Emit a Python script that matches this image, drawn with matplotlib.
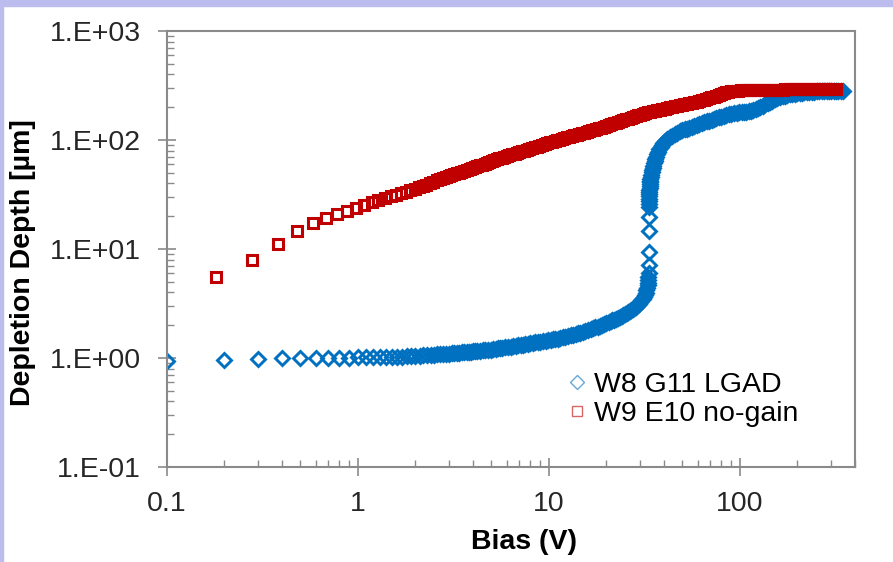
import matplotlib
matplotlib.use('Agg')
import matplotlib.pyplot as plt
from matplotlib.patches import Rectangle
from matplotlib.ticker import FixedLocator, FuncFormatter, LogLocator, NullFormatter

plt.rcParams['font.family'] = ['Liberation Sans', 'DejaVu Sans']

# W8 G11 LGAD (blue diamonds)
bias_w8 = [0.1, 0.2, 0.3, 0.4, 0.5, 0.6, 0.7, 0.8, 0.9, 1.0,
           1.1, 1.2, 1.3, 1.4, 1.5, 1.6, 1.7, 1.8, 1.9, 2.0,
           2.1, 2.2, 2.3, 2.4, 2.5, 2.6, 2.7, 2.8, 2.9, 3.0,
           3.1, 3.2, 3.3, 3.4, 3.5, 3.6, 3.7, 3.8, 3.9, 4.0,
           4.1, 4.2, 4.35, 4.5, 4.65, 4.8, 4.95, 5.1, 5.25, 5.4,
           5.55, 5.7, 5.9, 6.1, 6.3, 6.5, 6.7, 6.9, 7.1, 7.3,
           7.5, 7.75, 8.0, 8.25, 8.5, 8.75, 9.0, 9.3, 9.6, 9.9,
           10.2, 10.5, 10.8, 11.1, 11.4, 11.8, 12.2, 12.6, 13.0, 13.4,
           13.8, 14.2, 14.6, 15.0, 15.5, 16.0, 16.5, 17.0, 17.5, 18.0,
           18.5, 19.0, 19.5, 20.0, 20.5, 21.0, 21.5, 22.0, 22.5, 23.0,
           23.5, 24.0, 24.5, 25.0, 25.5, 26.0, 26.5, 27.0, 27.5, 28.0,
           28.5, 29.0, 29.5, 30.0, 30.5, 31.0, 31.4, 31.8, 32.1, 32.4,
           32.6, 32.8, 33.0,
           33.1, 33.1, 33.2, 33.2, 33.2, 33.3, 33.3, 33.3, 33.3, 33.4,
           33.4, 33.4, 33.4, 33.5, 33.5, 33.6, 33.6, 33.7, 33.8, 33.9,
           34.0, 34.1, 34.3, 34.5, 34.7, 34.9, 35.1, 35.4, 35.7, 36.0,
           36.4, 36.8, 37.3, 37.8, 38.4, 39.0, 39.7, 40.5,
           41.7, 43, 44.3, 45.6, 47, 48.4, 49.8, 51.3, 52.8, 54.4,
           56, 57.7, 59.4, 61.2, 63, 65, 67, 69, 71, 73,
           75, 77.5, 80, 82.5, 85, 87.5, 90, 93, 96, 99,
           102, 105, 108, 111, 114, 117.5, 121, 124.5, 128, 132,
           136, 140, 144, 148, 152.5, 157, 162, 167, 172, 177,
           182, 187.5, 193, 199, 205, 211, 217, 224, 231, 238,
           245, 252, 260, 268, 276, 284, 292, 301, 310, 319,
           328, 337, 346]
depth_w8 = [0.94, 0.96, 0.98, 1.00, 1.01, 1.01, 1.01, 1.01, 1.01, 1.02,
            1.02, 1.02, 1.02, 1.03, 1.03, 1.03, 1.03, 1.04, 1.04, 1.05,
            1.05, 1.06, 1.06, 1.07, 1.07, 1.08, 1.08, 1.09, 1.09, 1.10,
            1.105, 1.11, 1.115, 1.12, 1.125, 1.13, 1.135, 1.14, 1.145, 1.15,
            1.155, 1.16, 1.167, 1.175, 1.182, 1.19, 1.197, 1.205, 1.215, 1.225,
            1.235, 1.24, 1.25, 1.26, 1.27, 1.29, 1.30, 1.31, 1.32, 1.33,
            1.34, 1.355, 1.37, 1.38, 1.39, 1.40, 1.415, 1.43, 1.445, 1.455,
            1.47, 1.48, 1.495, 1.51, 1.525, 1.545, 1.565, 1.59, 1.61, 1.635,
            1.66, 1.68, 1.71, 1.73, 1.77, 1.81, 1.84, 1.875, 1.91, 1.945,
            1.98, 2.02, 2.06, 2.09, 2.13, 2.17, 2.21, 2.25, 2.29, 2.33,
            2.38, 2.42, 2.47, 2.52, 2.57, 2.63, 2.69, 2.74, 2.81, 2.88,
            2.96, 3.04, 3.13, 3.25, 3.38, 3.5, 3.65, 3.82, 3.98, 4.2,
            4.4, 4.65, 4.9,
            5.2, 5.5, 6.0, 7.1, 9.4, 14.5, 19.6, 24.3, 26, 27.5,
            29, 30.5, 32, 33.5, 35, 36.5, 38, 39.5, 41, 42.5,
            44, 46, 48, 50.5, 53, 55.5, 58, 61, 64, 67,
            70.5, 74, 78, 82, 86, 90, 94, 98,
            102, 106, 110, 114, 117, 120, 122.5, 125, 127.5, 130,
            133, 135, 137, 139.5, 142, 145, 148, 150.5, 153.5, 156,
            158.5, 161.5, 164, 166.5, 169, 171.5, 173.5, 175.5, 177.5, 179,
            180, 181, 182.5, 184.5, 186.5, 189, 193, 197, 201, 206,
            212, 218, 224, 230, 236, 242, 247, 252, 256, 259,
            262, 265, 267, 269, 271, 272.5, 274, 275, 276.5, 277.5,
            278.5, 279.5, 280, 281, 281.5, 282, 282.5, 283, 283, 283.5,
            284, 284, 284]

# W9 E10 no-gain (red squares)
bias_w9 = [0.18, 0.28, 0.38, 0.48, 0.58, 0.68, 0.78, 0.88, 0.98, 1.08,
           1.18, 1.28, 1.38, 1.48, 1.58, 1.68, 1.78, 1.88, 1.98, 2.08,
           2.18, 2.28, 2.38, 2.48, 2.58, 2.68, 2.78, 2.88, 2.98,
           3.08, 3.18, 3.28, 3.38, 3.48, 3.6, 3.72, 3.84, 3.96, 4.08,
           4.2, 4.33, 4.46, 4.6, 4.74, 4.88, 5.03, 5.18, 5.34, 5.5,
           5.67, 5.84, 6.0, 6.2, 6.4, 6.6, 6.8, 7.0, 7.2, 7.4,
           7.65, 7.9, 8.15, 8.4, 8.65, 8.9, 9.2, 9.5, 9.8, 10.1,
           10.4, 10.7, 11.0, 11.35, 11.7, 12.05, 12.4, 12.8, 13.2, 13.6,
           14.0, 14.4, 14.85, 15.3, 15.75, 16.2, 16.7, 17.2, 17.7, 18.25,
           18.8, 19.35, 19.95, 20.55, 21.15, 21.8, 22.45, 23.1, 23.8, 24.5,
           25.25, 26.0, 26.8, 27.6, 28.4, 29.25, 30.1, 31.0, 31.95, 32.9,
           33.9, 34.9, 35.95, 37.0, 38.1, 39.25, 40.4, 41.6, 42.9, 44.2,
           45.5, 46.9, 48.3, 49.7, 51.2, 52.7, 54.3, 55.9, 57.6, 59.3,
           61.1, 62.9, 64.8, 66.7, 68.7, 70.8, 72.9, 75.1, 77.3, 79.6,
           82, 84.5, 87, 89.6, 92.3, 95.1, 98, 101, 104, 107,
           110, 113, 117, 120.5, 124, 128, 132, 136, 140, 144,
           148.5, 153, 157.5, 162, 167, 172, 177, 182.5, 188, 193.5,
           199, 205, 211, 217.5, 224, 231, 238, 245, 252, 260,
           268, 276, 284, 292, 301, 309, 318]
depth_w9 = [5.5, 7.9, 11.1, 14.6, 17.3, 19.3, 21.0, 22.4, 24.0, 25.5,
            26.8, 28.0, 29.3, 30.5, 31.6, 32.6, 33.6, 34.6, 35.6, 36.7,
            37.8, 38.9, 40.0, 41.5, 42.6, 43.6, 44.6, 45.6, 46.6,
            47.55, 48.5, 49.4, 50.3, 51.2, 52.3, 53.35, 54.4, 55.4, 56.45,
            57.45, 58.5, 59.6, 60.75, 61.9, 62.95, 64.1, 65.3, 66.5, 67.7,
            68.9, 70.0, 71.1, 72.4, 73.7, 75.0, 76.2, 77.5, 78.7, 79.95,
            81.4, 82.9, 84.4, 85.8, 87.2, 88.6, 90.3, 91.95, 93.55, 95.2,
            96.6, 98.0, 99.35, 100.9, 102.5, 104.0, 105.5, 107.2, 108.8, 110.5,
            112.1, 113.7, 115.4, 117.2, 118.9, 120.6, 122.4, 124.2, 126.0, 128.0,
            130.2, 132.4, 134.7, 137.1, 139.4, 141.8, 144.2, 146.6, 149.1, 151.7,
            154.3, 157.0, 159.7, 162.4, 165.1, 168.0, 170.8, 173.7, 176.7, 179.7,
            181.8, 183.8, 186.0, 188.0, 190.2, 192.4, 194.5, 196.8, 199.1, 201.4,
            203.7, 206.1, 208.5, 210.7, 213.2, 215.6, 218.1, 220.6, 223.1, 225.6,
            228.2, 230.8, 234, 237.5, 241.5, 246, 250.5, 255.5, 260.5, 265,
            269.5, 273.5, 277, 280, 282, 283.5, 284.5, 285.5, 286, 286.5,
            287, 287.5, 288, 288, 288.5, 288.5, 289, 289, 289.5, 289.5,
            290, 290, 290, 290.5, 290.5, 291, 291, 291, 291, 291.5,
            291.5, 291.5, 292, 292, 292, 292, 292, 292, 292, 292,
            292, 292, 292, 292, 292, 292, 292]

x_ticks = [0.1, 1, 10, 100]
x_labels = ['0.1', '1', '10', '100']
y_ticks = [0.1, 1, 10, 100, 1000]
y_labels = ['1.E-01', '1.E+00', '1.E+01', '1.E+02', '1.E+03']

blue = '#0070C0'
red = '#C00000'
grey = '#8a8a8a'
fs = 20.5

fig = plt.figure(figsize=(8.93, 5.62), dpi=100)
# lavender frame strips (top and left)
fig.patches.append(Rectangle((0, 0.989), 1, 0.011, transform=fig.transFigure,
                             color='#bcbcee', zorder=0))
fig.patches.append(Rectangle((0, 0), 0.003, 1, transform=fig.transFigure,
                             color='#bcbcee', zorder=0))

ax = fig.add_axes([0.187, 0.169, 0.7704, 0.7758])
ax.plot(bias_w8, depth_w8, linestyle='none', marker='D', markersize=6.8,
        markerfacecolor='none', markeredgecolor=blue, markeredgewidth=2.1,
        label='W8 G11 LGAD')
ax.plot(bias_w9, depth_w9, linestyle='none', marker='s', markersize=7.4,
        markerfacecolor='none', markeredgecolor=red, markeredgewidth=2.2,
        label='W9 E10 no-gain')

ax.set_xscale('log')
ax.set_yscale('log')
ax.set_xlim(0.1, 400)
ax.set_ylim(0.1, 1000)

ax.xaxis.set_major_locator(FixedLocator(x_ticks))
ax.xaxis.set_major_formatter(FuncFormatter(lambda v, p: x_labels[x_ticks.index(v)] if v in x_ticks else ''))
ax.yaxis.set_major_locator(FixedLocator(y_ticks))
ax.yaxis.set_major_formatter(FuncFormatter(lambda v, p: y_labels[y_ticks.index(v)] if v in y_ticks else ''))
ax.xaxis.set_minor_locator(LogLocator(base=10, subs=range(2, 10)))
ax.yaxis.set_minor_locator(LogLocator(base=10, subs=range(2, 10)))
ax.xaxis.set_minor_formatter(NullFormatter())
ax.yaxis.set_minor_formatter(NullFormatter())

for s in ax.spines.values():
    s.set_color(grey)
    s.set_linewidth(1.5)

ax.tick_params(which='major', direction='inout', length=12.5, width=1.2,
               color=grey, labelsize=fs, labelcolor='#262626')
ax.tick_params(axis='y', which='major', pad=12.5)
ax.tick_params(axis='x', which='major', pad=11)
ax.tick_params(which='minor', direction='in', length=5, width=1.0, color=grey)

ax.set_xlabel('Bias (V)', fontsize=fs, fontweight='bold')
ax.set_ylabel('Depletion Depth [µm]', fontsize=fs, fontweight='bold')
ax.xaxis.set_label_coords(0.519, -0.142)
ax.yaxis.set_label_coords(-0.19, 0.47)

leg = ax.legend(loc='upper left', bbox_to_anchor=(0.583, 0.218), frameon=False,
                fontsize=fs, handlelength=0.6, handletextpad=0.3,
                borderpad=0, borderaxespad=0, labelspacing=0.12)
for h in leg.legend_handles:
    h.set_markeredgewidth(1.0)
    h.set_alpha(0.6)

fig.savefig('out.png', dpi=100)
